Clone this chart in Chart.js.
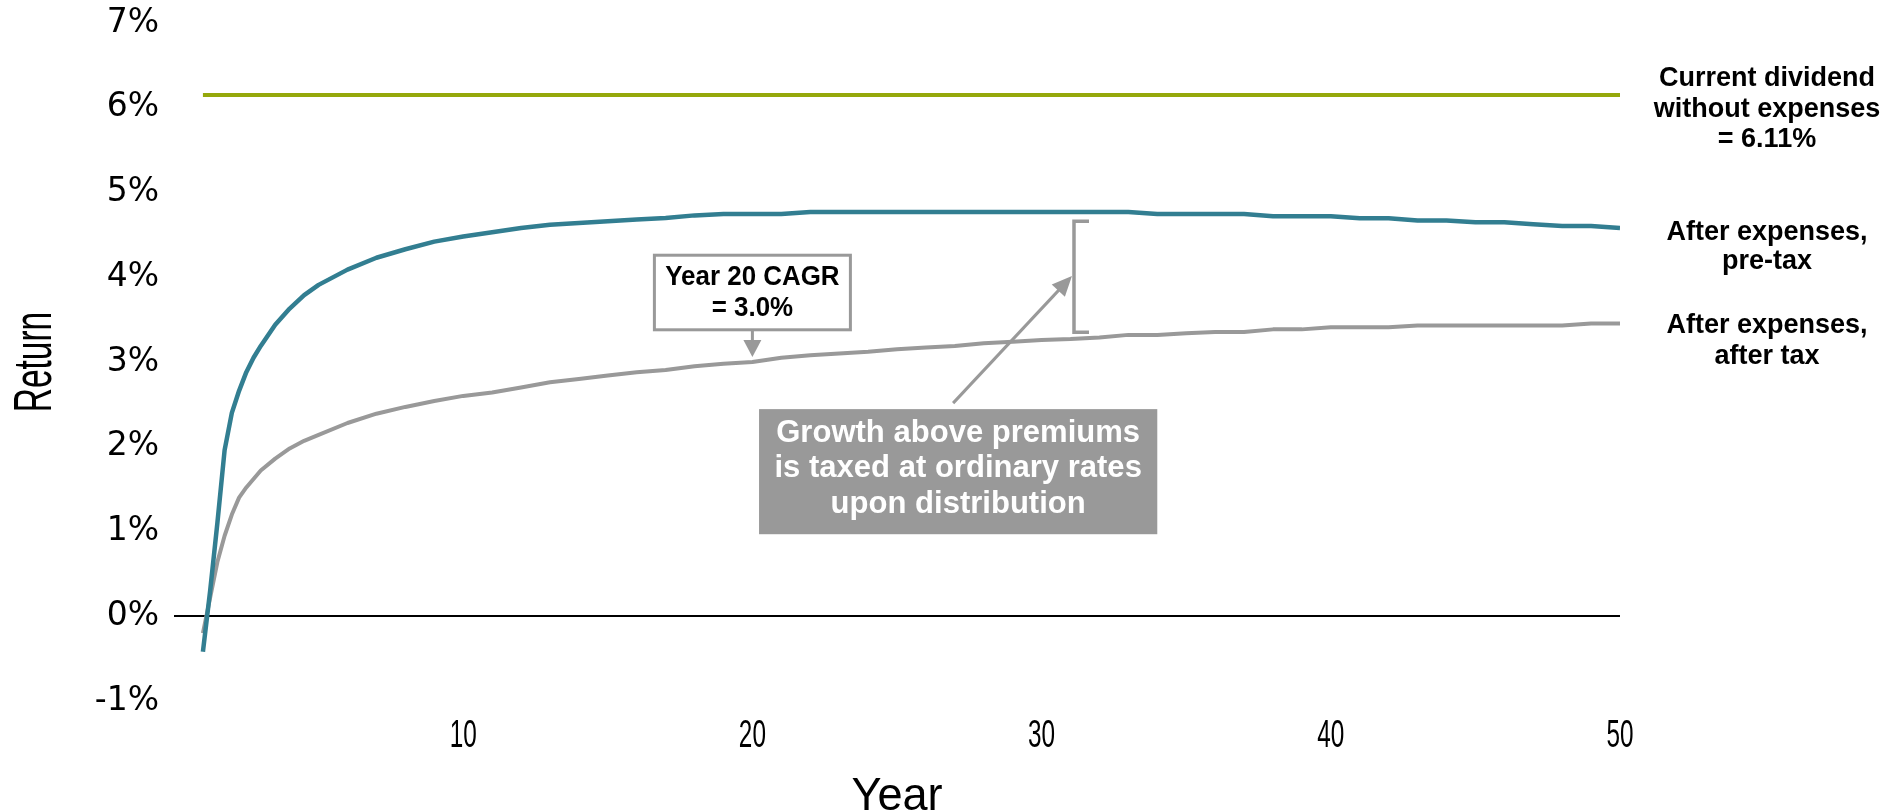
<!DOCTYPE html>
<html>
<head>
<meta charset="utf-8">
<script src="https://cdn.jsdelivr.net/npm/chart.js@4.4.1/dist/chart.umd.min.js"></script>
<style>
    html, body { margin: 0; padding: 0; background: #ffffff; }
    canvas { display: block; }
</style>
</head>
<body>
<canvas id="return-chart" width="1898" height="811"></canvas>
<script>
// years since purchase (finer steps in the first few years)
const years = [1, 1.25, 1.5, 1.75, 2, 2.25, 2.5, 2.75, 3, 3.5, 4, 4.5,
    5, 6, 7, 8, 9, 10, 11, 12, 13, 14, 15, 16, 17, 18, 19, 20,
    21, 22, 23, 24, 25, 26, 27, 28, 29, 30, 31, 32, 33, 34, 35,
    36, 37, 38, 39, 40, 41, 42, 43, 44, 45, 46, 47, 48, 49, 50];

// after expenses, pre-tax (%)
const preTax = [-0.42, 0.30, 1.10, 1.96, 2.40, 2.66, 2.88, 3.05, 3.19, 3.44, 3.63, 3.79,
    3.91, 4.09, 4.23, 4.33, 4.42, 4.48, 4.53, 4.58, 4.62, 4.64, 4.66, 4.68, 4.70, 4.73, 4.745, 4.745,
    4.745, 4.77, 4.77, 4.77, 4.77, 4.77, 4.77, 4.77, 4.77, 4.77, 4.77, 4.77, 4.77, 4.745, 4.745,
    4.745, 4.745, 4.72, 4.72, 4.72, 4.695, 4.695, 4.67, 4.67, 4.65, 4.65, 4.625, 4.605, 4.605, 4.58];

// after expenses, after tax (%)
const afterTax = [-0.20, 0.22, 0.64, 0.95, 1.20, 1.40, 1.52, 1.62, 1.72, 1.86, 1.98, 2.07,
    2.14, 2.28, 2.39, 2.47, 2.54, 2.60, 2.64, 2.70, 2.76, 2.80, 2.84, 2.88, 2.905, 2.95, 2.98, 3.00,
    3.05, 3.08, 3.10, 3.12, 3.15, 3.17, 3.19, 3.22, 3.24, 3.26, 3.27, 3.29, 3.32, 3.32, 3.34,
    3.355, 3.355, 3.385, 3.385, 3.41, 3.41, 3.41, 3.43, 3.43, 3.43, 3.43, 3.43, 3.43, 3.455, 3.455];

// current dividend without expenses
const dividendYears = [1, 50];
const dividendValues = [6.15, 6.15];

const xTicks = [0, 10, 20, 30, 40, 50];
const yTicks = [-1, 0, 1, 2, 3, 4, 5, 6, 7];

const TEAL = "#327E91";
const GRAY = "#999999";
const GREEN = "#95A80B";
const SANS = "'Liberation Sans', Arial, sans-serif";

function toPoints(xs, ys) {
    return xs.map((x, i) => ({ x: x, y: ys[i] }));
}

function arrowHead(ctx, fromX, fromY, toX, toY, len, half) {
    const a = Math.atan2(toY - fromY, toX - fromX);
    ctx.beginPath();
    ctx.moveTo(toX, toY);
    ctx.lineTo(toX - len * Math.cos(a) + half * Math.sin(a), toY - len * Math.sin(a) - half * Math.cos(a));
    ctx.lineTo(toX - len * Math.cos(a) - half * Math.sin(a), toY - len * Math.sin(a) + half * Math.cos(a));
    ctx.closePath();
    ctx.fill();
}

// narrow text: the axis titles and year labels are squeezed in the original
function narrowText(ctx, text, px, py, sx, rot) {
    ctx.save();
    ctx.translate(px, py);
    ctx.rotate(rot);
    ctx.scale(sx, 1);
    ctx.fillText(text, 0, 0);
    ctx.restore();
}

const notes = {
    id: "notes",
    afterDraw(chart) {
        const { ctx } = chart;
        const x = chart.scales.x, y = chart.scales.y;
        ctx.save();
        ctx.textAlign = "center";
        ctx.textBaseline = "middle";

        // axis labels and titles
        ctx.fillStyle = "#000000";
        ctx.font = "38px " + SANS;
        xTicks.filter(v => v !== 0).forEach(v => {
            narrowText(ctx, String(v), x.getPixelForValue(v), 737, 0.64, 0);
        });
        ctx.font = "46px " + SANS;
        narrowText(ctx, "Year", (x.left + x.right) / 2, 797, 0.98, 0);
        ctx.font = "54px " + SANS;
        narrowText(ctx, "Return", 36, (y.top + y.bottom) / 2, 0.62, -Math.PI / 2);

        // Year 20 CAGR box
        const cx = x.getPixelForValue(20);
        const top = y.getPixelForValue(4.26), bot = y.getPixelForValue(3.38);
        ctx.fillStyle = "#ffffff";
        ctx.fillRect(cx - 98, top, 196, bot - top);
        ctx.strokeStyle = GRAY;
        ctx.lineWidth = 3;
        ctx.strokeRect(cx - 98, top, 196, bot - top);
        ctx.fillStyle = "#000000";
        ctx.font = "bold 27px " + SANS;
        narrowText(ctx, "Year 20 CAGR", cx, top + 22, 0.96, 0);
        narrowText(ctx, "= 3.0%", cx, top + 53, 0.96, 0);
        const tipY = y.getPixelForValue(3.06);
        ctx.beginPath();
        ctx.moveTo(cx, bot);
        ctx.lineTo(cx, tipY - 14);
        ctx.stroke();
        ctx.fillStyle = GRAY;
        arrowHead(ctx, cx, bot, cx, tipY, 17, 9);

        // growth box
        const gx0 = x.getPixelForValue(20.23), gx1 = x.getPixelForValue(34.0);
        const gy0 = y.getPixelForValue(2.444), gy1 = y.getPixelForValue(0.968);
        ctx.fillStyle = GRAY;
        ctx.fillRect(gx0, gy0, gx1 - gx0, gy1 - gy0);
        ctx.fillStyle = "#ffffff";
        ctx.font = "bold 32px " + SANS;
        const gc = (gx0 + gx1) / 2;
        narrowText(ctx, "Growth above premiums", gc, gy0 + 24, 0.97, 0);
        narrowText(ctx, "is taxed at ordinary rates", gc, gy0 + 59, 0.97, 0);
        narrowText(ctx, "upon distribution", gc, gy0 + 95, 0.97, 0);

        // arrow to bracket
        const ax0 = x.getPixelForValue(26.94), ay0 = y.getPixelForValue(2.515);
        const ax1 = x.getPixelForValue(31.05), ay1 = y.getPixelForValue(4.014);
        const ang = Math.atan2(ay1 - ay0, ax1 - ax0);
        ctx.strokeStyle = GRAY;
        ctx.lineWidth = 3;
        ctx.beginPath();
        ctx.moveTo(ax0, ay0);
        ctx.lineTo(ax1 - 10 * Math.cos(ang), ay1 - 10 * Math.sin(ang));
        ctx.stroke();
        ctx.fillStyle = GRAY;
        arrowHead(ctx, ax0, ay0, ax1, ay1, 20, 9);

        // bracket
        const bx = x.getPixelForValue(31.12);
        const by0 = y.getPixelForValue(4.66), by1 = y.getPixelForValue(3.35);
        ctx.lineWidth = 3.5;
        ctx.beginPath();
        ctx.moveTo(bx + 15, by0);
        ctx.lineTo(bx, by0);
        ctx.lineTo(bx, by1);
        ctx.lineTo(bx + 15, by1);
        ctx.stroke();

        // series labels on the right
        ctx.fillStyle = "#000000";
        ctx.font = "bold 27px " + SANS;
        const lx = 1767;
        ctx.fillText("Current dividend", lx, y.getPixelForValue(6.35));
        ctx.fillText("without expenses", lx, y.getPixelForValue(5.98));
        ctx.fillText("= 6.11%", lx, y.getPixelForValue(5.62));
        ctx.fillText("After expenses,", lx, y.getPixelForValue(4.53));
        ctx.fillText("pre-tax", lx, y.getPixelForValue(4.18));
        ctx.fillText("After expenses,", lx, y.getPixelForValue(3.43));
        ctx.fillText("after tax", lx, y.getPixelForValue(3.07));
        ctx.restore();
    }
};

const ctx = document.getElementById("return-chart").getContext("2d");
new Chart(ctx, {
    type: "line",
    data: {
        datasets: [
            {
                label: "Current dividend without expenses",
                data: toPoints(dividendYears, dividendValues),
                borderColor: GREEN,
                borderWidth: 4
            },
            {
                label: "After expenses, pre-tax",
                data: toPoints(years, preTax),
                borderColor: TEAL,
                borderWidth: 4.5
            },
            {
                label: "After expenses, after tax",
                data: toPoints(years, afterTax),
                borderColor: GRAY,
                borderWidth: 4
            }
        ]
    },
    options: {
        responsive: false,
        animation: false,
        devicePixelRatio: 1,
        layout: { padding: { left: 0, right: 278, top: 23, bottom: 0 } },
        elements: {
            point: { radius: 0, hoverRadius: 0 },
            line: { tension: 0, borderJoinStyle: "round", borderCapStyle: "butt" }
        },
        plugins: {
            legend: { display: false },
            tooltip: { enabled: false }
        },
        scales: {
            x: {
                type: "linear",
                min: 0,
                max: 50,
                afterBuildTicks: s => { s.ticks = xTicks.map(v => ({ value: v })); },
                afterFit: s => { s.height = 110; s.paddingLeft = 0; s.paddingRight = 0; },
                grid: { display: false, drawTicks: false },
                border: { display: false },
                ticks: { display: false }
            },
            y: {
                min: -1,
                max: 7,
                afterBuildTicks: s => { s.ticks = yTicks.map(v => ({ value: v })); },
                afterFit: s => { s.width = 174; s.paddingTop = 0; s.paddingBottom = 0; },
                grid: {
                    drawTicks: false,
                    color: c => (c.tick && c.tick.value === 0 ? "#000000" : "rgba(0,0,0,0)"),
                    lineWidth: 2
                },
                border: { display: false },
                ticks: {
                    padding: 15,
                    color: "#000000",
                    font: { family: "'DejaVu Sans', sans-serif", size: 33 },
                    callback: v => v + "%"
                }
            }
        }
    },
    plugins: [notes]
});
</script>
</body>
</html>
